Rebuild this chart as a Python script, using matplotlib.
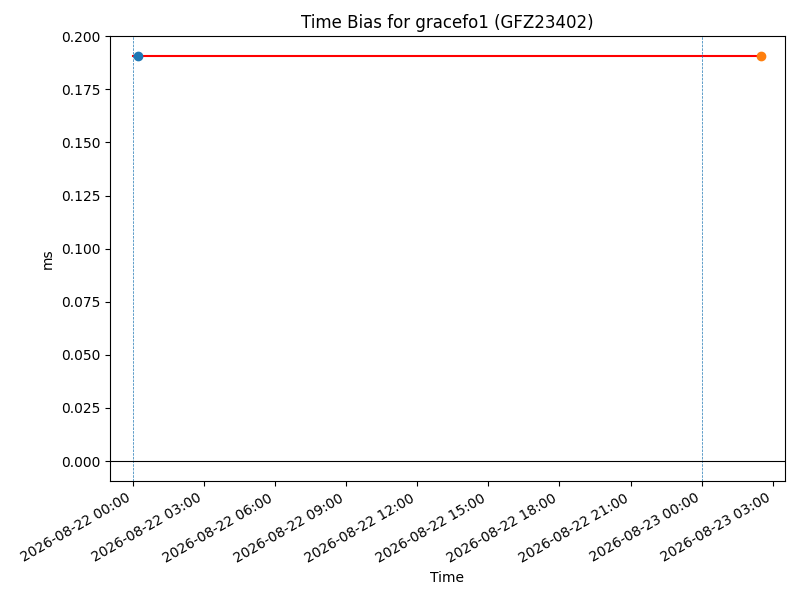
import numpy as np
import matplotlib
matplotlib.use("Agg")
import matplotlib.pyplot as plt
import matplotlib.dates as mdates
from datetime import datetime

# data
t_start = datetime(2026, 8, 22, 0, 12)
t_end = datetime(2026, 8, 23, 2, 30)
line_times = [datetime(2026, 8, 22, 0, 0), datetime(2026, 8, 23, 2, 30)]
bias = 0.1906  # ms
day_marks = [datetime(2026, 8, 22), datetime(2026, 8, 23)]

fig, ax = plt.subplots(figsize=(8, 6), dpi=100)

ax.plot(line_times, [bias, bias], color='red')
ax.plot([t_start], [bias], 'o')
ax.plot([t_end], [bias], 'o')
for d in day_marks:
    ax.axvline(d, linestyle='--', linewidth=0.5)
ax.axhline(0, color='black', linewidth=0.8)

ax.set_xlim(mdates.date2num(datetime(2026, 8, 21, 23, 1)),
            mdates.date2num(datetime(2026, 8, 23, 3, 31)))
ax.set_ylim(-0.0095, 0.2001)
ax.xaxis.set_major_locator(mdates.HourLocator(interval=3))
ax.xaxis.set_major_formatter(mdates.DateFormatter('%Y-%m-%d %H:%M'))
fig.autofmt_xdate()

ax.set_title('Time Bias for gracefo1 (GFZ23402)')
ax.set_xlabel('Time')
ax.set_ylabel('ms')

fig.subplots_adjust(left=0.1375, right=0.981, top=0.94, bottom=0.198)
fig.savefig('out.png')
